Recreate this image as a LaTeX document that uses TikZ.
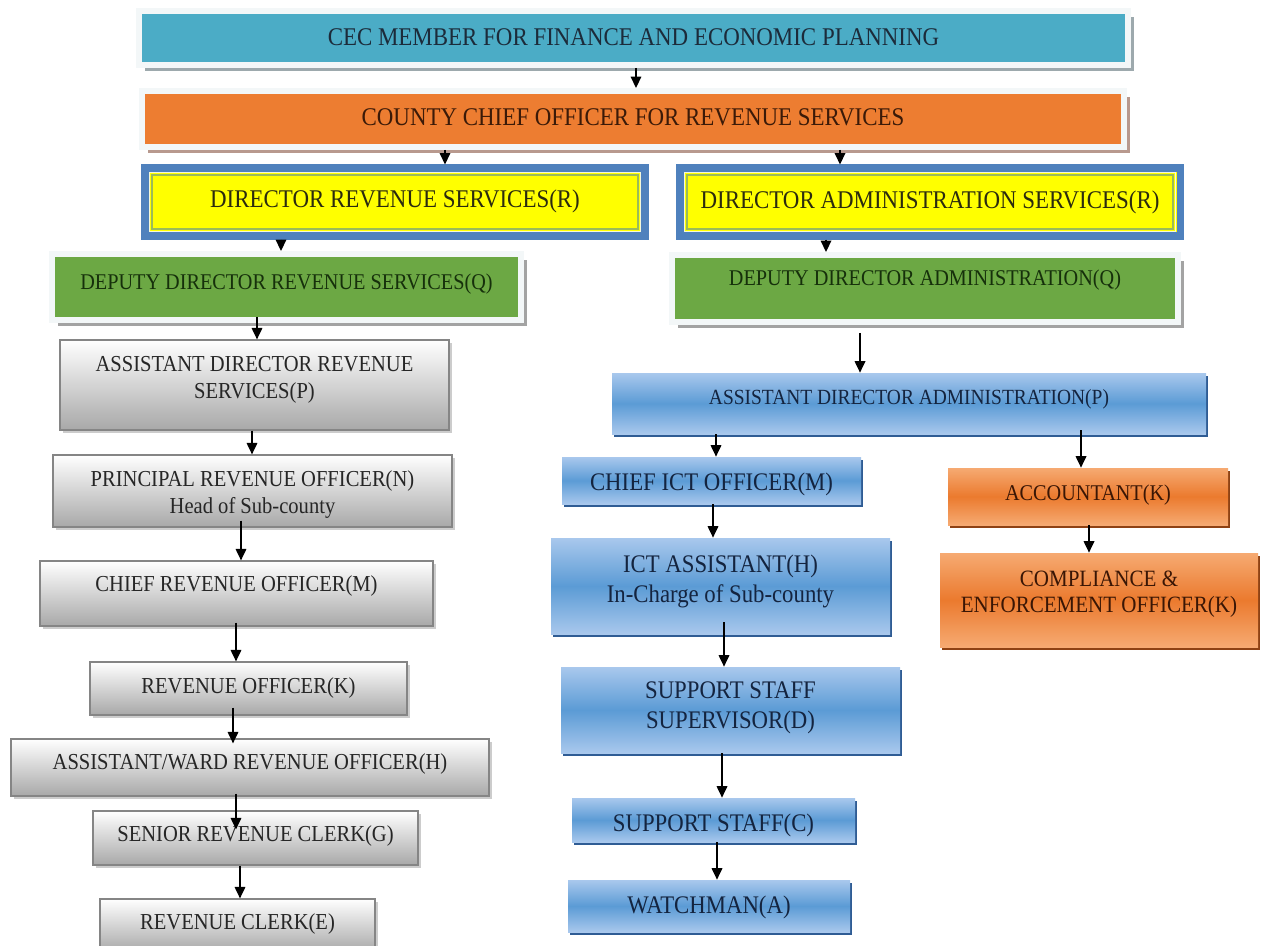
\documentclass[tikz,border=0pt]{standalone}
\usepackage{fontspec}
\newfontfamily\orgfont[FakeStretch=0.9]{Liberation Serif}
\usetikzlibrary{arrows.meta,shadows,calc}
\definecolor{cecfill}{HTML}{4BACC6}
\definecolor{ccofill}{HTML}{ED7D31}
\definecolor{dirblue}{HTML}{4F81BD}
\definecolor{diryel}{HTML}{FFFF00}
\definecolor{dirgreen}{HTML}{9BBB59}
\definecolor{dirlight}{HTML}{F2F7DC}
\definecolor{depgreen}{HTML}{6CA844}
\definecolor{frameA}{HTML}{F3F7F8}
\definecolor{shadA}{HTML}{9DA9AD}
\definecolor{shadB}{HTML}{B8998E}
\definecolor{shadC}{HTML}{A3A3A3}
\definecolor{grayB}{HTML}{A8A8A8}
\definecolor{grayline}{HTML}{858585}
\definecolor{grayshad}{HTML}{CCCCCC}
\definecolor{blueL}{HTML}{A9C8ED}
\definecolor{blueM}{HTML}{5B9BD5}
\definecolor{blueD}{HTML}{2F5C94}
\definecolor{orL}{HTML}{F6AA72}
\definecolor{orM}{HTML}{EB7A2E}
\definecolor{orD}{HTML}{8E4214}
\definecolor{cectext}{HTML}{1C2B3A}
\definecolor{ccotext}{HTML}{3B1A08}
\definecolor{dirtext}{HTML}{2B2B0F}
\definecolor{deptext}{HTML}{16300B}
\definecolor{graytext}{HTML}{262626}
\definecolor{bluetext}{HTML}{14243F}
\definecolor{ortext}{HTML}{3A1605}
\newdimen\pxu \pxu=0.02cm
% one line: caps centre placed #1 px above the box centre
\newcommand\rbone[2]{\raisebox{\dimexpr #1\pxu - 0.331em\relax}[0pt][0pt]{#2}}
% two lines: centre of the two cap lines placed #1 px above the box centre
\newcommand\rbtwo[3]{\raisebox{\dimexpr #1\pxu + 0.5\baselineskip - 0.331em\relax}[0pt][0pt]{\begin{tabular}[t]{@{}c@{}}#2\\#3\end{tabular}}}
\begin{document}
\begin{tikzpicture}[x=0.02cm,y=-0.02cm,
  every node/.style={inner sep=0pt},
  bx/.style n args={4}{at={({(#1+#3)/2},{(#2+#4)/2})}, minimum width={(#3-#1)*0.02cm}, minimum height={(#4-#2)*0.02cm}},
  fshadow/.style={drop shadow={shadow xshift=3.4pt, shadow yshift=-3.4pt, fill=#1, opacity=1}},
  framedbox/.style={draw=frameA, line width=3.4pt},
  bigtxt/.style={font=\orgfont\fontsize{14.5}{16}\selectfont},
  deptxt/.style={font=\orgfont\fontsize{12.8}{15}\selectfont, text=deptext},
  dirbox/.style={draw=dirblue, line width=4pt, fill=diryel, text=dirtext, font=\orgfont\fontsize{14.5}{16}\selectfont},
  graybox/.style={draw=grayline, line width=0.7pt, top color=white, bottom color=grayB, text=graytext,
    font=\orgfont\fontsize{13}{15.5}\selectfont,
    drop shadow={shadow xshift=1.7pt, shadow yshift=-1.7pt, fill=grayshad, opacity=1}},
  bluebox/.style={top color=blueL, bottom color=blueL, middle color=blueM, text=bluetext,
    font=\orgfont\fontsize{14.4}{17.2}\selectfont,
    drop shadow={shadow xshift=1.1pt, shadow yshift=-1.7pt, fill=blueD, opacity=1}},
  orbox/.style={top color=orL, bottom color=orL, middle color=orM, text=ortext,
    font=\orgfont\fontsize{12.8}{15.3}\selectfont,
    drop shadow={shadow xshift=1.1pt, shadow yshift=-1.7pt, fill=orD, opacity=1}},
  arr/.style={line width=0.9pt, -{Triangle[length=6.5pt,width=6pt]}}
]
\useasboundingbox (0,0) rectangle (1261,946);
\clip (0,0) rectangle (1261,946);
\fill[white] (0,0) rectangle (1261,946);

% top framed boxes
\node[framedbox, fill=cecfill, text=cectext, bigtxt, fshadow=shadA, bx={139}{11}{1128}{65}] (cec)
  {\rbone{1.3}{CEC MEMBER FOR FINANCE AND ECONOMIC PLANNING}};
\node[framedbox, fill=ccofill, text=ccotext, bigtxt, fshadow=shadB, bx={142}{91}{1124}{147}] (cco)
  {\rbone{2.3}{COUNTY CHIEF OFFICER FOR REVENUE SERVICES}};

% directors
\node[dirbox, bx={145}{168}{645}{236}] (dr) {\rbone{2.5}{DIRECTOR REVENUE SERVICES(R)}};
\node[dirbox, bx={680}{168}{1180}{236}] (da) {\rbone{2}{DIRECTOR ADMINISTRATION SERVICES(R)}};
\foreach \n in {dr,da}{
  \draw[dirlight, line width=1.1pt] ([shift={(8,8)}]\n.north west) rectangle ([shift={(-8,-8)}]\n.south east);
  \draw[dirgreen, line width=1.3pt] ([shift={(10.2,10.2)}]\n.north west) rectangle ([shift={(-10.2,-10.2)}]\n.south east);
}

% deputies
\node[framedbox, fill=depgreen, deptxt, fshadow=shadC, bx={52}{254}{521}{320}] (ddr)
  {\rbone{4.5}{DEPUTY DIRECTOR REVENUE SERVICES(Q)}};
\node[framedbox, fill=depgreen, deptxt, fshadow=shadC, bx={672}{255}{1178}{322}] (dda)
  {\rbone{10}{DEPUTY DIRECTOR ADMINISTRATION(Q)}};

% revenue column
\node[graybox, bx={60}{340}{449}{430}] (adr) {\rbtwo{7.5}{ASSISTANT DIRECTOR REVENUE}{SERVICES(P)}};
\node[graybox, bx={53}{455}{452}{527}] (pro) {\rbtwo{-1.4}{PRINCIPAL REVENUE OFFICER(N)}{Head of Sub-county}};
\node[graybox, bx={40}{561}{433}{626}] (cro) {\rbone{9.5}{CHIEF REVENUE OFFICER(M)}};
\node[graybox, bx={90}{662}{407}{715}] (ro) {\rbone{2.5}{REVENUE OFFICER(K)}};
\node[graybox, bx={11}{739}{489}{796}] (aw) {\rbone{5.8}{ASSISTANT/WARD REVENUE OFFICER(H)}};
\node[graybox, bx={93}{811}{418}{865}] (src) {\rbone{4}{SENIOR REVENUE CLERK(G)}};
\node[graybox, bx={100}{899}{375}{952}] (rc) {\rbone{3.8}{REVENUE CLERK(E)}};

% administration column
\node[bluebox, font=\orgfont\fontsize{12.3}{15}\selectfont, bx={612}{373}{1206}{434}] (ada) {\rbone{6}{ASSISTANT DIRECTOR ADMINISTRATION(P)}};
\node[bluebox, bx={562}{457}{861}{504}] (cict) {\rbone{-1.3}{CHIEF ICT OFFICER(M)}};
\node[bluebox, bx={551}{538}{890}{634}] (icta) {\rbtwo{7}{ICT ASSISTANT(H)}{In-Charge of Sub-county}};
\node[bluebox, bx={561}{667}{900}{753}] (sup) {\rbtwo{5}{SUPPORT STAFF}{SUPERVISOR(D)}};
\node[bluebox, bx={572}{798}{855}{842}] (ss) {\rbone{-3.3}{SUPPORT STAFF(C)}};
\node[bluebox, bx={568}{880}{850}{932}] (wm) {\rbone{1}{WATCHMAN(A)}};
\node[orbox, bx={948}{468}{1228}{525}] (acc) {\rbone{3.2}{ACCOUNTANT(K)}};
\node[orbox, font=\orgfont\fontsize{13.3}{15.2}\selectfont, bx={940}{553}{1258}{647}] (comp) {\rbtwo{8.3}{COMPLIANCE \&}{ENFORCEMENT OFFICER(K)}};

% connectors
\draw[arr] (cec.south -| 636,0) -- (cco.north -| 636,0);
\draw[arr] (cco.south -| 445,0) -- (dr.north -| 445,0);
\draw[arr] (cco.south -| 840,0) -- (da.north -| 840,0);
\draw[arr] (dr.south -| 281,0) -- (ddr.north -| 281,0);
\draw[arr] (da.south -| 826,0) -- (dda.north -| 826,0);
\draw[arr] ($(ddr.south -| 257,0)+(0,-6)$) -- (adr.north -| 257,0);
\draw[arr] (adr.south -| 252,0) -- (pro.north -| 252,0);
\draw[arr] ($(pro.south -| 241,0)+(0,-7)$) -- (cro.north -| 241,0);
\draw[arr] ($(cro.south -| 236,0)+(0,-4)$) -- (ro.north -| 236,0);
\draw[arr] ($(ro.south -| 233,0)+(0,-8)$) -- ($(aw.north -| 233,0)+(0,5)$);
\draw[arr] ($(aw.south -| 236,0)+(0,-3)$) -- ($(src.north -| 236,0)+(0,19)$);
\draw[arr] (src.south -| 240,0) -- (rc.north -| 240,0);
\draw[arr] ($(dda.south -| 860,0)+(0,8)$) -- (ada.north -| 860,0);
\draw[arr] (ada.south -| 716,0) -- (cict.north -| 716,0);
\draw[arr] ($(ada.south -| 1081,0)+(0,-4)$) -- (acc.north -| 1081,0);
\draw[arr] (cict.south -| 713,0) -- (icta.north -| 713,0);
\draw[arr] (acc.south -| 1089,0) -- (comp.north -| 1089,0);
\draw[arr] ($(icta.south -| 724,0)+(0,-12)$) -- (sup.north -| 724,0);
\draw[arr] (sup.south -| 722,0) -- (ss.north -| 722,0);
\draw[arr] (ss.south -| 717,0) -- (wm.north -| 717,0);
\end{tikzpicture}
\end{document}
